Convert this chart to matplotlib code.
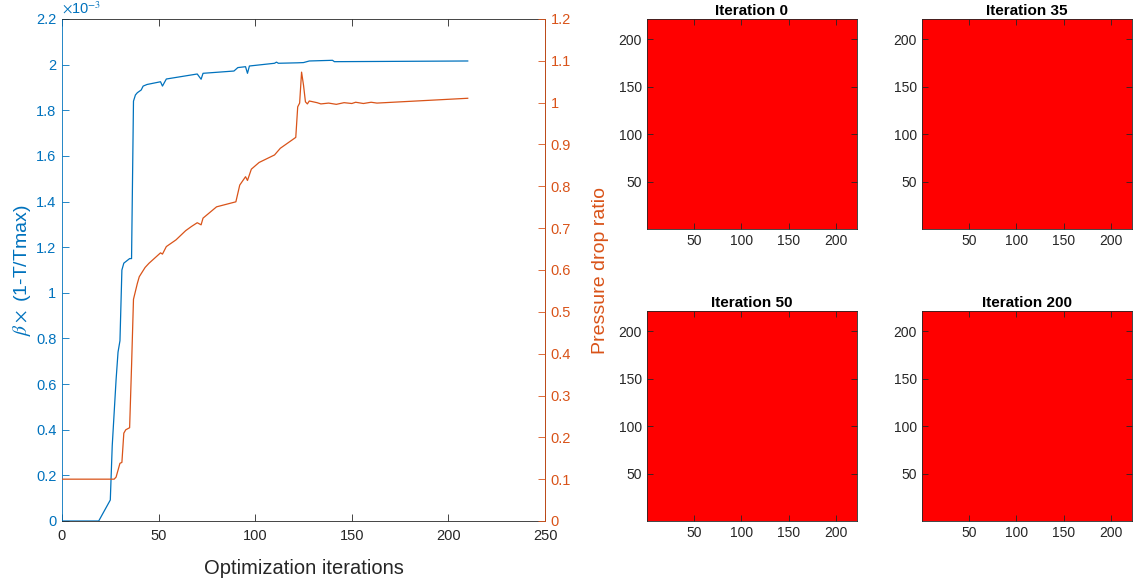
import numpy as np
import matplotlib.pyplot as plt
from matplotlib.colors import ListedColormap
from matplotlib.ticker import FuncFormatter, MultipleLocator

plt.rcParams['font.family'] = ['Liberation Sans', 'DejaVu Sans']
plt.rcParams['mathtext.fontset'] = 'stix'

BLUE = '#0072BD'
ORANGE = '#D95319'
DARK = '#262626'

# objective history (beta * (1 - T/Tmax)), values in units of 1e-3
beta_iter = [0, 19, 25, 26, 28, 29, 30, 31, 32, 35, 36, 37, 38, 39, 41, 42, 44,
             51, 52, 54, 70, 72, 73, 89, 91, 95, 96, 97, 110, 111, 112, 122,
             125, 128, 140, 141, 165, 210]
beta_val = [0, 0, 0.092, 0.33, 0.62, 0.74, 0.79, 1.10, 1.13, 1.15, 1.15, 1.84,
            1.867, 1.877, 1.889, 1.906, 1.913, 1.925, 1.906, 1.937, 1.959, 1.936,
            1.962, 1.972, 1.987, 1.991, 1.962, 1.994, 2.006, 2.011, 2.006, 2.008,
            2.009, 2.016, 2.019, 2.013, 2.014, 2.016]

# pressure drop ratio history
dp_iter = [0, 27, 28, 30, 31, 32, 33, 35, 36, 37, 39, 40, 43, 45, 51, 52, 54,
           59, 64, 67, 70, 72, 73, 80, 90, 92, 95, 96, 98, 102, 110, 113, 121,
           122, 123, 124, 125, 126, 127, 128, 132, 134, 138, 142, 146, 150, 152,
           156, 160, 163, 210]
dp_val = [0.1, 0.1, 0.105, 0.138, 0.14, 0.21, 0.218, 0.223, 0.37, 0.53, 0.568,
          0.584, 0.606, 0.616, 0.641, 0.638, 0.656, 0.672, 0.694, 0.704, 0.713,
          0.708, 0.724, 0.751, 0.763, 0.803, 0.823, 0.814, 0.841, 0.857, 0.875,
          0.891, 0.917, 0.99, 0.999, 1.073, 1.042, 1.002, 0.997, 1.004, 1.0,
          0.997, 0.999, 0.996, 1.0, 0.998, 1.001, 0.998, 1.001, 0.999, 1.0105]

# design snapshots: 221 x 221 density field, fully solid
snap_titles = ['Iteration 0', 'Iteration 35', 'Iteration 50', 'Iteration 200']
grid_n = 221
snap_fields = [np.ones((grid_n, grid_n)) for _ in snap_titles]

fig = plt.figure(figsize=(11.34, 5.83), dpi=100)

# --- convergence history ---
ax1 = fig.add_axes([62 / 1134, 62 / 583, 483 / 1134, 502 / 583])
ax1.plot(beta_iter, beta_val, color=BLUE, lw=0.9)
ax1.set_xlim(0, 250)
ax1.set_ylim(0, 2.2)
ax1.xaxis.set_major_locator(MultipleLocator(50))
ax1.yaxis.set_major_locator(MultipleLocator(0.2))
ax1.yaxis.set_major_formatter(FuncFormatter(lambda v, p: f'{v:g}'))
ax1.tick_params(axis='x', direction='in', top=True, length=5, width=0.6,
                colors=DARK, labelsize=10.5, pad=6)
ax1.tick_params(axis='y', direction='in', right=True, length=5, width=0.6,
                colors=BLUE, labelsize=10.5, pad=4)
ax1.spines['left'].set_color(BLUE)
for s in ('top', 'bottom'):
    ax1.spines[s].set_color(DARK)
for s in ax1.spines.values():
    s.set_linewidth(0.6)
ax1.set_xlabel('Optimization iterations', fontsize=14.5, color=DARK, labelpad=11)
ax1.set_ylabel(r'$\beta \times$ (1-T/Tmax)', fontsize=14, color=BLUE, labelpad=2)
ax1.text(0.0, 1.005, r'$\times$10$^{-3}$', transform=ax1.transAxes,
         color=BLUE, fontsize=10.5, ha='left', va='bottom')

ax2 = ax1.twinx()
ax2.plot(dp_iter, dp_val, color=ORANGE, lw=0.9)
ax2.set_ylim(0, 1.2)
ax2.yaxis.set_major_locator(MultipleLocator(0.1))
ax2.yaxis.set_major_formatter(FuncFormatter(lambda v, p: f'{v:g}'))
ax2.tick_params(axis='y', direction='in', length=5, width=0.6,
                colors=ORANGE, labelsize=10.5, pad=4)
ax2.spines['right'].set_color(ORANGE)
ax2.spines['left'].set_visible(False)
ax2.spines['top'].set_visible(False)
ax2.spines['bottom'].set_visible(False)
ax2.spines['right'].set_linewidth(0.6)
ax2.set_ylabel('Pressure drop ratio', fontsize=14, color=ORANGE, labelpad=15)

# --- design snapshots ---
cmap = ListedColormap(['white', '#FF0000'])
boxes = [(646.7, 229), (921.7, 229), (646.7, 521), (921.7, 521)]
for (x0, y0), title, field in zip(boxes, snap_titles, snap_fields):
    ax = fig.add_axes([x0 / 1134, (583 - y0) / 583, 210 / 1134, 210 / 583])
    ax.imshow(field, cmap=cmap, vmin=0, vmax=1, origin='lower', aspect='auto',
              extent=(0.5, grid_n + 0.5, 0.5, grid_n + 0.5), interpolation='nearest')
    ax.set_xticks([50, 100, 150, 200])
    ax.set_yticks([50, 100, 150, 200])
    ax.tick_params(direction='in', top=True, right=True, length=4, width=0.6,
                   colors=DARK, labelsize=10)
    for s in ax.spines.values():
        s.set_color(DARK)
        s.set_linewidth(0.6)
    ax.set_title(title, fontsize=11, fontweight='bold', color='black', pad=3)

fig.savefig('out.png', dpi=100)
